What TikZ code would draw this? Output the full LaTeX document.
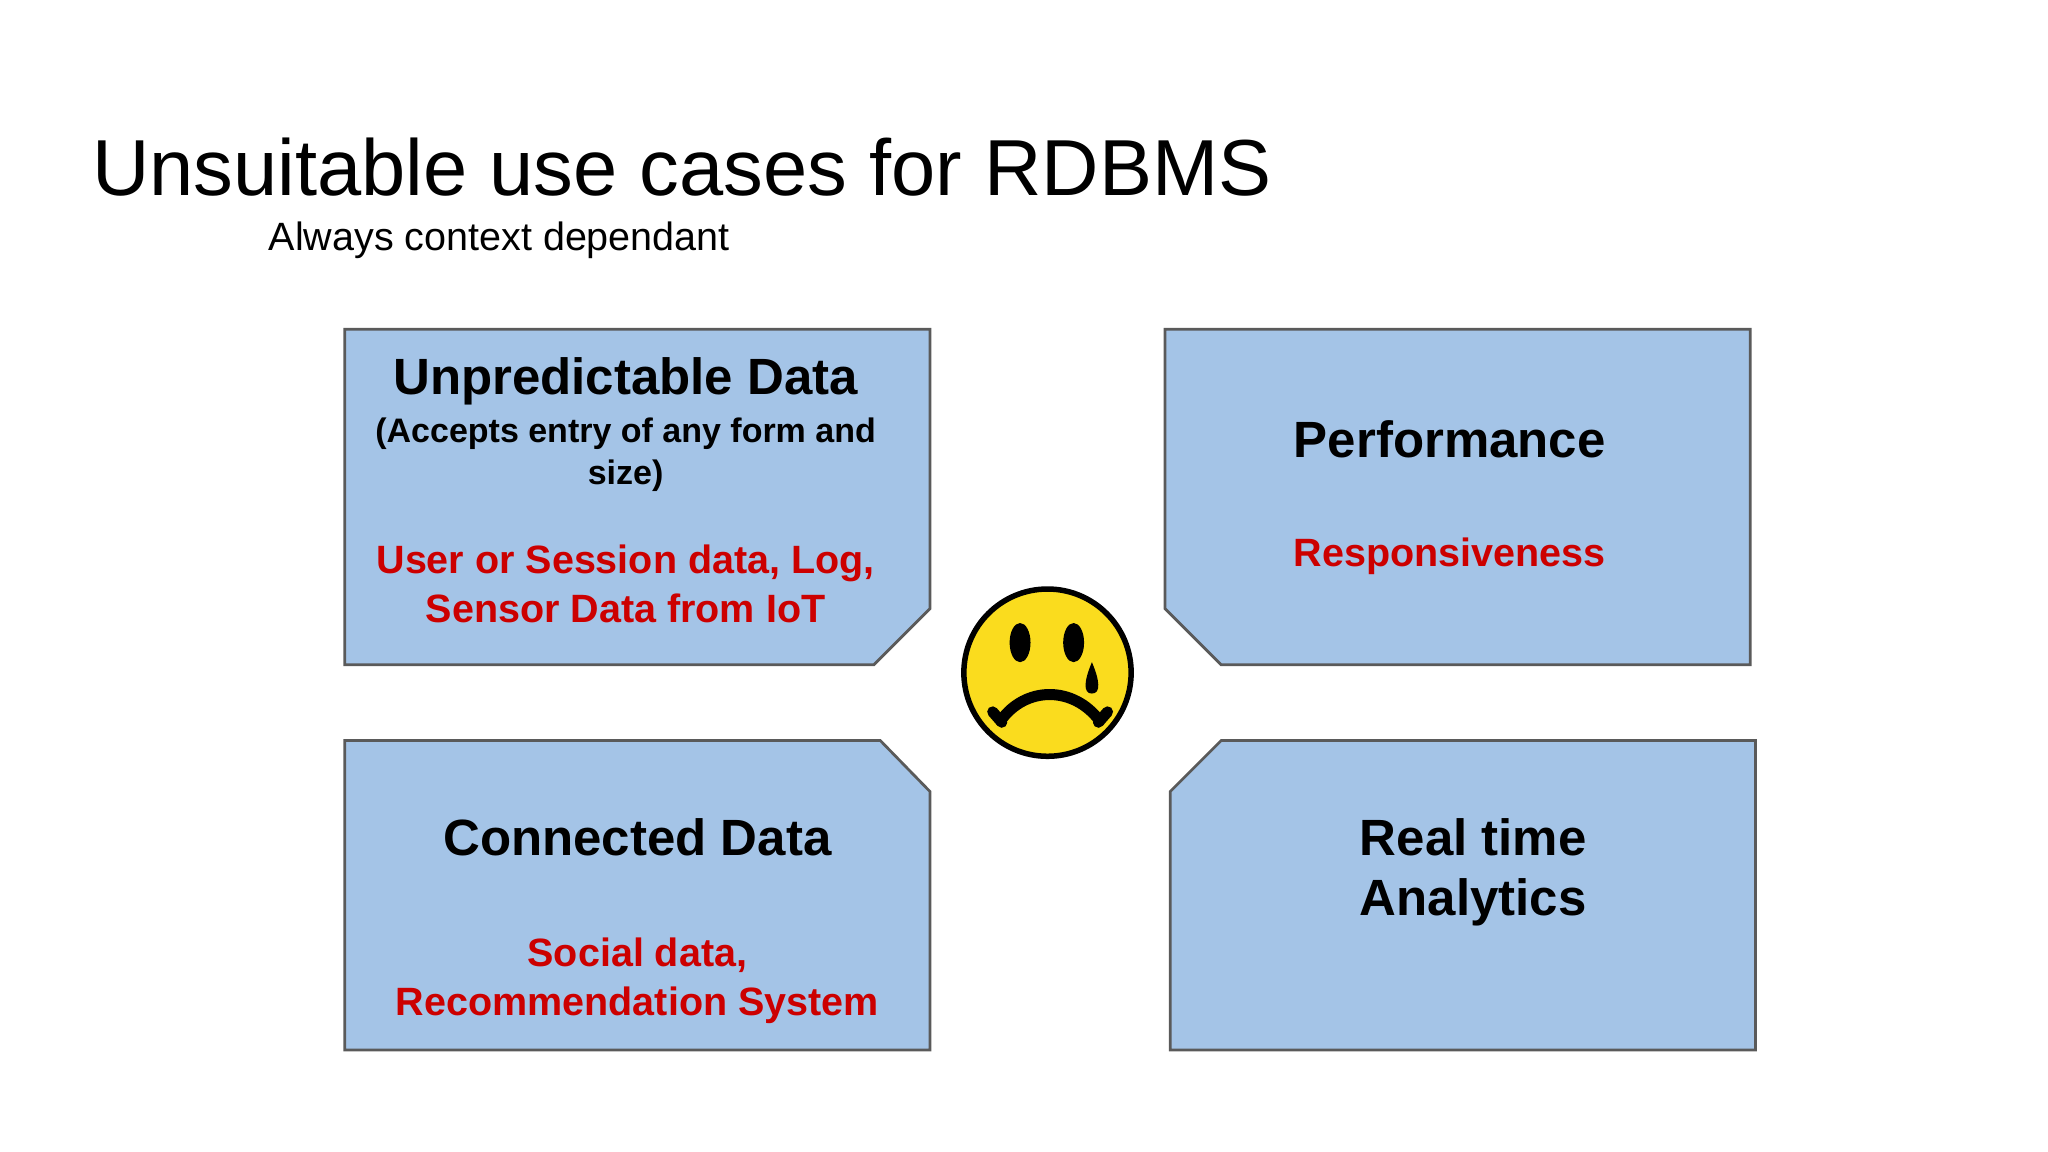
\documentclass[tikz,border=0pt]{standalone}
\usepackage{fontspec}
\setmainfont{Liberation Sans}
\definecolor{boxfill}{HTML}{A4C4E7}
\definecolor{boxline}{HTML}{5A5A5A}
\definecolor{redt}{HTML}{CC0000}
\definecolor{smile}{HTML}{FADC1E}
\begin{document}
\begin{tikzpicture}[x=0.01cm,y=-0.01cm,
  box/.style={fill=boxfill,draw=boxline,line width=0.6pt},
  head/.style={font=\fontsize{11.1}{13}\selectfont\bfseries,align=center},
  sub/.style={font=\fontsize{7.4}{9.2}\selectfont\bfseries,align=center},
  red/.style={font=\fontsize{8.6}{10.6}\selectfont\bfseries,text=redt,align=center}]
\useasboundingbox (0,0) rectangle (1568,882);
\node[anchor=base west,font=\fontsize{17.3}{20}\selectfont,inner sep=0] (title) at (70,150) {Unsuitable use cases for RDBMS};
\node[anchor=base west,font=\fontsize{8.6}{10}\selectfont,inner sep=0] (subt) at (205,192) {Always context dependant};
% boxes
\draw[box] (264,252) -- (712,252) -- (712,466) -- (669,509) -- (264,509) -- cycle;
\draw[box] (892,252) -- (1340,252) -- (1340,509) -- (935,509) -- (892,466) -- cycle;
\draw[box] (264,567) -- (674,567) -- (712,606) -- (712,804) -- (264,804) -- cycle;
\draw[box] (935,567) -- (1344,567) -- (1344,804) -- (896,804) -- (896,606) -- cycle;
% texts
\node[head] (t1) at (479,292) {Unpredictable Data};
\node[sub] (s1) at (479,348) {(Accepts entry of any form and\\size)};
\node[red] (r1) at (479,447) {User or Session data, Log,\\Sensor Data from IoT};
\node[head] (t2) at (1110,336) {Performance};
\node[red] (r2) at (1110,426) {Responsiveness};
\node[head] (t3) at (488,641) {Connected Data};
\node[red] (r3) at (488,751) {Social data,\\Recommendation System};
\node[head] (t4) at (1128,668) {Real time\\Analytics};
% smiley
\node[circle,minimum size=1.28cm,fill=smile,draw=black,line width=1.2pt] (face) at (802,515) {};
\fill (781,492) ellipse [x radius=8, y radius=15];
\fill (822,492) ellipse [x radius=8, y radius=15];
\fill (836,531) .. controls (829,531) and (830,521) .. (836,507) .. controls (842,521) and (843,531) .. (836,531);
\draw[line width=2.4pt,line cap=round] (766,552) .. controls (785,525) and (822,525) .. (842,552);
\draw[line width=2.4pt,line cap=round] (760,545) -- (767,553);
\draw[line width=2.4pt,line cap=round] (848,545) -- (841,553);
\end{tikzpicture}
\end{document}
